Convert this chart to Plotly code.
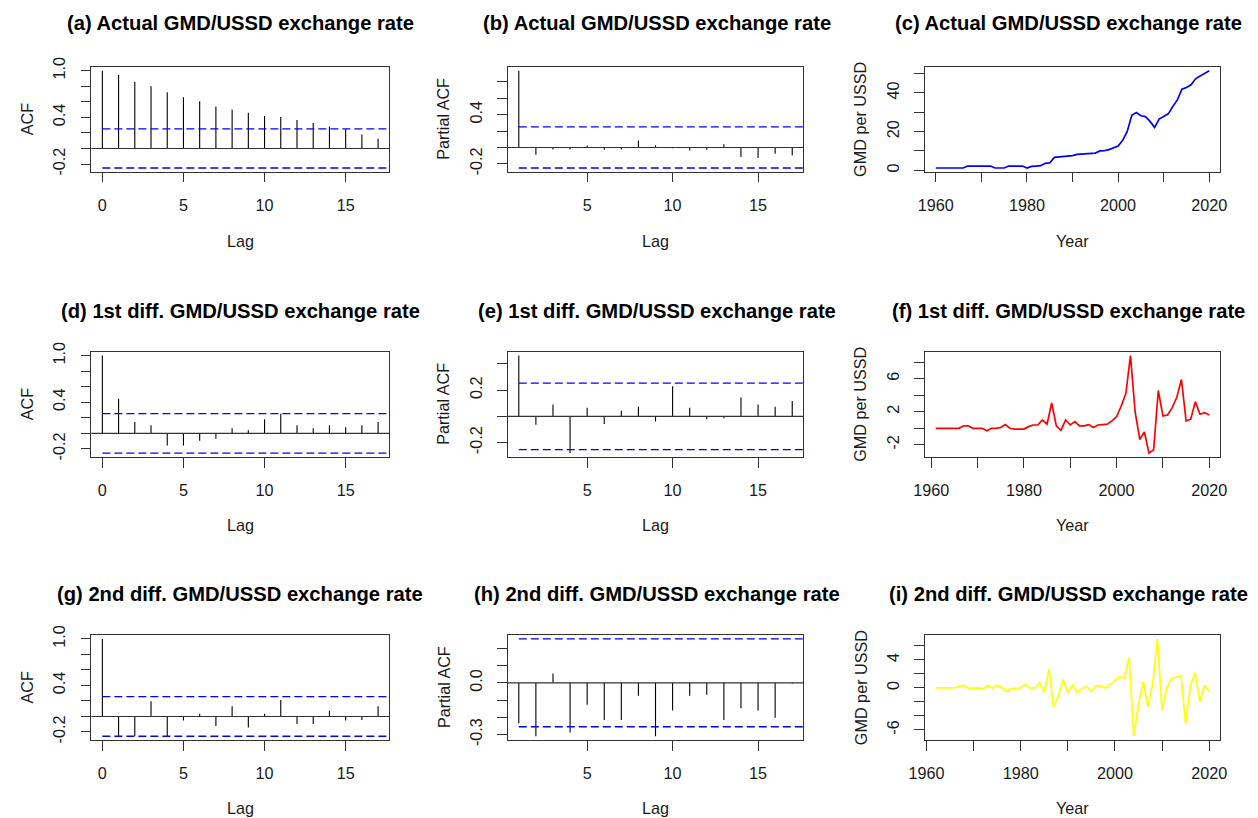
import plotly.graph_objects as go

# ---------------- data ----------------
lags_acf = list(range(0, 18))
lags_pacf = list(range(1, 18))

acf_level = [1.0, 0.944, 0.858, 0.80, 0.724, 0.659, 0.608, 0.539, 0.50, 0.461,
             0.418, 0.405, 0.366, 0.328, 0.284, 0.246, 0.181, 0.125]
pacf_level = [0.937, -0.089, -0.024, -0.024, 0.024, -0.028, -0.024, 0.085, 0.028,
              -0.01, -0.036, -0.028, 0.04, -0.118, -0.13, -0.077, -0.097]

acf_d1 = [1.0, 0.445, 0.148, 0.105, -0.157, -0.157, -0.096, -0.07, 0.066, 0.04,
          0.183, 0.253, 0.105, 0.066, 0.105, 0.079, 0.105, 0.148]
pacf_d1 = [0.463, -0.065, 0.09, -0.28, 0.065, -0.058, 0.043, 0.073, -0.04,
           0.229, 0.065, -0.023, -0.015, 0.143, 0.09, 0.073, 0.116]

acf_d2 = [1.0, -0.251, -0.251, 0.198, -0.251, -0.053, 0.035, -0.123, 0.132, -0.141,
          0.035, 0.211, -0.097, -0.097, 0.075, -0.053, -0.044, 0.132]
pacf_d2 = [-0.235, -0.31, 0.055, -0.288, -0.127, -0.216, -0.216, -0.075, -0.31,
           -0.161, -0.075, -0.069, -0.216, -0.147, -0.161, -0.202, -0.004]

ci_level = 0.251
ci_d1 = 0.253
ci_d2 = 0.255

years_level = list(range(1960, 2021))
rate_level = [1.2, 1.2, 1.2, 1.2, 1.2, 1.2, 1.2,
              2.2, 2.2, 2.2, 2.2, 2.2, 2.2,
              1.2, 1.2, 1.2,
              2.2, 2.2, 2.2, 2.2,
              1.2, 2.0, 2.2, 2.4, 3.6, 3.8, 6.7, 6.9, 6.9, 7.4,
              7.6, 8.2, 8.4, 8.8, 8.8, 8.9, 10.0, 10.1, 10.7, 11.5,
              12.5, 15.5, 20.1, 28.4, 29.9, 28.2, 27.8, 25.3, 22.2, 26.5,
              27.8, 29.2, 33.0, 36.4, 41.9, 42.8, 44.2, 47.3, 48.8, 50.2,
              51.5]

years_d1 = list(range(1961, 2021))
rate_d1 = [0, 0, 0, 0, 0, 0, 0.3, 0.3, 0, 0,
           0, -0.3, 0, 0, 0.1, 0.45, 0, -0.1, -0.1, -0.1,
           0.2, 0.4, 0.4, 1.0, 0.5, 3.06, 0.3, -0.25, 1.0, 0.4,
           0.8, 0.3, 0.3, 0.45, 0.1, 0.4, 0.45, 0.5, 0.9, 1.4,
           2.7, 4.2, 8.8, 2.0, -1.35, -0.45, -3.0, -2.6, 4.57, 1.5,
           1.6, 2.5, 3.75, 5.9, 0.9, 1.1, 3.2, 1.7, 1.9, 1.6]

years_d2 = list(range(1962, 2021))
rate_d2 = [0, 0, 0, 0, 0, 0.25, 0.35, -0.1, 0, 0,
           -0.15, 0.35, 0, 0.35, 0.1, -0.5, -0.1, 0, 0, 0.5,
           0, 0, 0.75, -0.65, 2.7, -2.8, -1.15, 1.25, -0.65, 0.4,
           -0.65, -0.1, 0.25, -0.5, 0.35, 0.25, 0, 0.5, 1.0, 1.6,
           1.4, 4.35, -6.9, -2.3, 0.9, -2.7, 0.5, 7.0, -3.2, 0,
           1.35, 1.5, 1.75, -5.1, 0.25, 2.2, -1.9, 0.4, -0.5]

titles = ["(a) Actual GMD/USSD exchange rate", "(b) Actual GMD/USSD exchange rate",
          "(c) Actual GMD/USSD exchange rate", "(d) 1st diff. GMD/USSD exchange rate",
          "(e) 1st diff. GMD/USSD exchange rate", "(f) 1st diff. GMD/USSD exchange rate",
          "(g) 2nd diff. GMD/USSD exchange rate", "(h) 2nd diff. GMD/USSD exchange rate",
          "(i) 2nd diff. GMD/USSD exchange rate"]

acf_yticks = [-0.2, 0.0, 0.2, 0.4, 0.6, 0.8, 1.0]
acf_ylabels = ["-0.2", "", "", "0.4", "", "", "1.0"]
pacf_level_yticks = [-0.2, 0.0, 0.2, 0.4, 0.6, 0.8]
pacf_level_ylabels = ["-0.2", "", "", "0.4", "", ""]
pacf_d1_yticks = [-0.2, 0.0, 0.2, 0.4]
pacf_d1_ylabels = ["-0.2", "", "0.2", ""]
pacf_d2_yticks = [-0.3, -0.2, -0.1, 0.0, 0.1, 0.2]
pacf_d2_ylabels = ["-0.3", "", "", "0.0", "", ""]
level_yticks = [0, 10, 20, 30, 40, 50]
level_ylabels = ["0", "", "20", "", "40", ""]
d1_yticks = [-2, 0, 2, 4, 6, 8]
d1_ylabels = ["-2", "", "2", "", "6", ""]
d2_yticks = [-6, -4, -2, 0, 2, 4, 6]
d2_ylabels = ["-6", "", "", "0", "", "4", ""]

acf_xticks = [0, 5, 10, 15]
pacf_xticks = [5, 10, 15]
year_xticks = [1960, 1970, 1980, 1990, 2000, 2010, 2020]
year_xlabels = ["1960", "", "1980", "", "2000", "", "2020"]

# ---------------- layout geometry ----------------
W, H = 1258, 818
# observed mapping page-pixel -> photographed pixel (slight shrink + offset)
AX, BX = 0.984, 13.0
AY, BY = 0.980, 9.2
FONT = "Liberation Sans, Arial, sans-serif"
BOX = "#333333"
TXT = "#1a1a1a"
# target boxes in the picture (pixels)
cols = [(88.5, 387.0), (506.0, 802.0), (924.0, 1220.0)]
rows = [(66.0, 171.0), (350.7, 456.0), (634.0, 739.0)]
title_y = [22.0, 310.0, 593.0]
title_dx = [0.0, 1.0, -4.0]
xlab_y = [240.0, 524.0, 807.0]


def px(t):
    return ((t - BX) / AX) / W


def py(t):
    return 1 - ((t - BY) / AY) / H


def padded(lo, hi, f=0.04):
    s = hi - lo
    return [lo - f * s, hi + f * s]


fig = go.Figure()
layout = {}
annotations = []
shapes = []


def add_panel(i, kind, x, y, ci=None, color=None, yticks=None, ylabels=None):
    r, c = divmod(i - 1, 3)
    xs = "x" if i == 1 else f"x{i}"
    ys = "y" if i == 1 else f"y{i}"
    xl, xr = cols[c]
    yt, yb = rows[r]
    if kind in ("acf", "pacf"):
        xrange = padded(min(x), max(x))
        yrange = padded(min(min(y), -ci), max(max(y), ci))
        sx, sy = [], []
        for lx, v in zip(x, y):
            sx += [lx, lx, None]
            sy += [0, v, None]
        fig.add_trace(go.Scatter(x=sx, y=sy, mode="lines", xaxis=xs, yaxis=ys,
                                 line=dict(color="black", width=1.1), hoverinfo="skip",
                                 showlegend=False))
        for cv in (ci, -ci):
            fig.add_trace(go.Scatter(x=[x[0], xrange[1]], y=[cv, cv], mode="lines",
                                     xaxis=xs, yaxis=ys,
                                     line=dict(color="#0000FF", width=1.3, dash="8px,4px"),
                                     hoverinfo="skip", showlegend=False))
        shapes.append(dict(type="line", xref=f"{xs} domain", yref=ys, x0=0, x1=1, y0=0, y1=0,
                           line=dict(color=BOX, width=1.1), layer="above"))
        xticks = acf_xticks if kind == "acf" else pacf_xticks
        xlabels = [str(t) for t in xticks]
        ytitle = "ACF" if kind == "acf" else "Partial ACF"
        xtitle = "Lag"
    else:
        xrange = padded(min(x), max(x))
        yrange = padded(min(y), max(y))
        fig.add_trace(go.Scatter(x=x, y=y, mode="lines", xaxis=xs, yaxis=ys,
                                 line=dict(color=color, width=1.7), hoverinfo="skip",
                                 showlegend=False))
        xticks = year_xticks
        xlabels = year_xlabels
        ytitle = "GMD per USSD"
        xtitle = "Year"

    common = dict(showline=True, linecolor=BOX, linewidth=1, mirror=True, ticks="outside",
                  ticklen=9.5, tickwidth=1, tickcolor=BOX, showgrid=False, zeroline=False,
                  tickfont=dict(family=FONT, size=16.2, color=TXT), fixedrange=True)
    layout["xaxis" if i == 1 else f"xaxis{i}"] = dict(
        common, domain=[px(xl), px(xr)], range=xrange, anchor=ys,
        tickmode="array", tickvals=xticks, ticktext=xlabels, ticklabelstandoff=9)
    layout["yaxis" if i == 1 else f"yaxis{i}"] = dict(
        common, domain=[py(yb), py(yt)], range=yrange, anchor=xs,
        tickmode="array", tickvals=yticks, ticktext=ylabels, tickangle=-90,
        ticklabelstandoff=9)

    cx = (xl + xr) / 2
    annotations.append(dict(text=f"<b>{titles[i - 1]}</b>", x=px(cx + title_dx[c]),
                            y=py(title_y[r]), xref="paper", yref="paper", showarrow=False,
                            xanchor="center", yanchor="middle",
                            font=dict(family=FONT, size=20.2, color="black")))
    annotations.append(dict(text=xtitle, x=px(cx), y=py(xlab_y[r]), xref="paper",
                            yref="paper", showarrow=False, xanchor="center",
                            yanchor="middle", font=dict(family=FONT, size=16.2, color=TXT)))
    annotations.append(dict(text=ytitle, x=px(xl - 64.5), y=py((yt + yb) / 2),
                            xref="paper", yref="paper", showarrow=False, textangle=-90,
                            xanchor="center", yanchor="middle",
                            font=dict(family=FONT, size=16.2, color=TXT)))


add_panel(1, "acf", lags_acf, acf_level, ci_level, yticks=acf_yticks, ylabels=acf_ylabels)
add_panel(2, "pacf", lags_pacf, pacf_level, ci_level, yticks=pacf_level_yticks,
          ylabels=pacf_level_ylabels)
add_panel(3, "ts", years_level, rate_level, color="#0000FF", yticks=level_yticks,
          ylabels=level_ylabels)
add_panel(4, "acf", lags_acf, acf_d1, ci_d1, yticks=acf_yticks, ylabels=acf_ylabels)
add_panel(5, "pacf", lags_pacf, pacf_d1, ci_d1, yticks=pacf_d1_yticks, ylabels=pacf_d1_ylabels)
add_panel(6, "ts", years_d1, rate_d1, color="#FF0000", yticks=d1_yticks, ylabels=d1_ylabels)
add_panel(7, "acf", lags_acf, acf_d2, ci_d2, yticks=acf_yticks, ylabels=acf_ylabels)
add_panel(8, "pacf", lags_pacf, pacf_d2, ci_d2, yticks=pacf_d2_yticks, ylabels=pacf_d2_ylabels)
add_panel(9, "ts", years_d2, rate_d2, color="#FFFF00", yticks=d2_yticks, ylabels=d2_ylabels)

fig.update_layout(width=W, height=H, autosize=False, margin=dict(l=0, r=0, t=0, b=0),
                  paper_bgcolor="white", plot_bgcolor="white",
                  annotations=annotations, shapes=shapes, showlegend=False, **layout)

fig.write_html("out.html", config={"displayModeBar": False},
               post_script="document.body.style.margin='0';document.body.style.overflow='hidden';")
